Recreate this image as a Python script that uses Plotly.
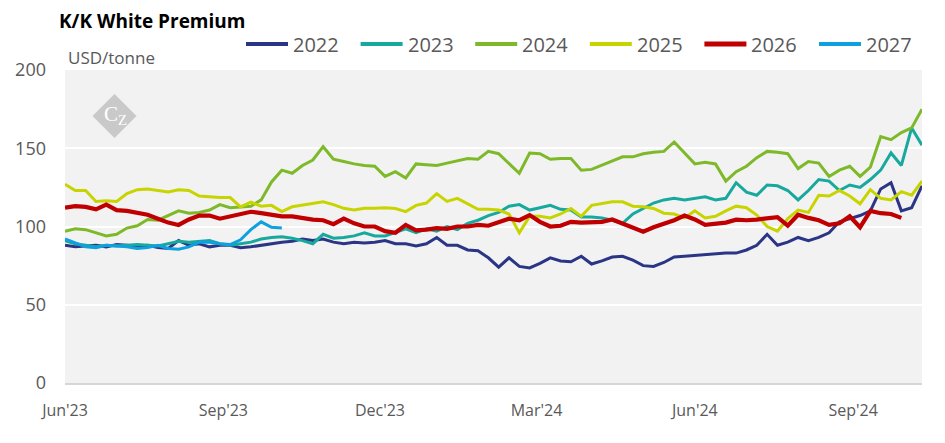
import pandas as pd
import plotly.graph_objects as go

# ---------------- data ----------------
START = "2023-06-01"
STEP = "6D"
X_RANGE = ["2023-06-01", "2024-10-11"]

years = ["2022", "2023", "2024", "2025", "2026", "2027"]

v2022 = [88, 87, 87.5, 88, 87, 88.5, 88, 87, 88, 86.5,
         86, 91, 88, 89, 87, 88, 88, 86.5, 87, 88,
         89, 90, 90.5, 92, 91, 92, 90, 89, 90, 89.5,
         90, 91, 89, 89, 87.5, 89, 93, 88, 88, 85,
         84.5, 80, 74, 80, 74.5, 73.5, 76.5, 80, 78, 77.5,
         81, 76, 78, 80.5, 81, 78.5, 75, 74.5, 77, 80.5,
         81, 81.5, 82, 82.5, 83, 83, 85, 88, 95, 88,
         90, 93, 91, 93, 96, 103, 105, 107, 110, 124,
         128, 110, 112, 126]

v2023 = [91, 89, 88, 87, 88, 87.5, 88, 88.5, 88, 87.5,
         89, 90.5, 90, 90.5, 91, 89, 88, 89, 90, 92,
         93, 93.5, 92.5, 91, 89, 95, 92.5, 93, 94, 96,
         94, 94, 96, 98.5, 96, 98.5, 97, 100, 98, 102,
         104, 107, 109, 113, 114, 110.5, 112, 113.5, 111, 110.5,
         106, 106, 105.5, 104, 102, 108, 111.5, 115, 117, 118,
         117, 118, 119, 117, 118, 128, 122, 120, 126.5, 126,
         123, 117, 123, 130, 129, 123, 126.5, 125, 130, 136,
         147, 139, 163, 152]

v2024 = [97, 98.5, 98, 96, 94, 95, 99, 100.5, 104.5, 104,
         107, 110, 108.5, 109, 110.5, 114, 112, 112.5, 113, 117,
         128.5, 136, 134, 139, 142.5, 151, 143, 141.5, 140, 139,
         138.5, 132, 135, 131, 140, 139.5, 139, 140.5, 142, 143.5,
         143, 148, 146.5, 140, 134, 147, 146.5, 143, 143.5, 143.5,
         136, 136.5, 139, 142, 144.5, 144.5, 146.5, 147.5, 148, 154,
         147, 140, 141, 140, 129, 135, 138.5, 144, 148, 147.5,
         146.5, 137, 141.5, 140.5, 132, 136, 138.5, 132, 138, 157.5,
         155.5, 160, 163, 175]

v2025 = [127, 123, 123, 116, 116.5, 116, 121, 123.5, 124, 123,
         122, 123.5, 123, 119.5, 119, 118.5, 118.5, 112.5, 115.5, 113,
         113.5, 109.5, 112.6, 113.7, 115, 115.8, 114, 111.6, 110.5, 111.6,
         111.6, 112, 111.5, 109.5, 113.5, 115, 121, 116, 118, 114.5,
         111, 111, 110.5, 108, 96, 106.5, 106.5, 105.5, 108, 111.5,
         106.5, 113.5, 114.8, 115.8, 115.8, 113, 112.6, 111.5, 108.5, 108,
         105.5, 110, 105.5, 106.5, 110, 113, 112, 107.3, 100, 97,
         105, 110.5, 109, 120, 119.5, 123, 119.5, 114.5, 123.5, 118,
         117, 122.3, 120, 129]

v2026 = [112, 113, 112.5, 111, 114, 110.5, 110, 108.5, 107.5, 105,
         102.5, 101, 104.5, 107, 107, 105, 106.3, 108, 109.4, 108.5,
         107.5, 106.5, 106.5, 105.2, 104.4, 104, 101.5, 105, 102, 100,
         100, 97, 96, 101, 97.5, 98, 99, 98.5, 100, 100,
         101, 100.5, 103, 105, 104, 107.3, 103, 100, 100.5, 103,
         102.5, 103, 103, 104.5, 102, 99, 96.7, 99.5, 101.5, 104,
         107, 104.5, 101, 102, 102.5, 104.4, 104, 104.4, 105.5, 106,
         100.5, 107.5, 105.5, 104, 101, 102, 106.5, 99.5, 110, 108.5,
         108, 105.5]

v2027 = [92, 89.5, 87, 86.5, 88, 87.5, 87, 86, 86.5, 88,
         86, 85.5, 87, 90, 90, 89, 88.5, 91.5, 98, 103,
         99.5, 99]

series = [v2022, v2023, v2024, v2025, v2026, v2027]

tick_dates = ["2023-06-01", "2023-09-01", "2023-12-01",
              "2024-03-01", "2024-06-01", "2024-09-01"]
tick_labels = ["Jun'23", "Sep'23", "Dec'23", "Mar'24", "Jun'24", "Sep'24"]
y_ticks = [0, 50, 100, 150, 200]

title_text = "K/K White Premium"
unit_text = "USD/tonne"

# ---------------- style ----------------
colors = ["#2B3585", "#17A89E", "#7DB928", "#C8D400", "#C00000", "#0FA0E0"]
widths = [3, 3, 3, 3, 4.2, 3]
legend_widths = [4, 4, 4, 4, 5, 4]
FONT = "Open Sans"
GREY = "#595959"

W, H = 945, 443
ML, MR, MT, MB = 65, 23, 70, 60
PW, PH = W - ML - MR, H - MT - MB


def px_x(p):
    return (p - ML) / PW


def px_y(p):
    return (H - MB - p) / PH


fig = go.Figure()
for name, vals, c, w in zip(years, series, colors, widths):
    x = pd.date_range(START, periods=len(vals), freq=STEP)
    fig.add_trace(go.Scatter(x=x, y=vals, mode="lines", name=name,
                             line=dict(color=c, width=w), showlegend=False,
                             hovertemplate="%{x|%d %b %Y}: %{y}<extra>" + name + "</extra>"))

shapes = []
annotations = []

# custom legend
for i, (name, c, lw) in enumerate(zip(years, colors, legend_widths)):
    x0 = 246 + 114.6 * i
    shapes.append(dict(type="line", xref="paper", yref="paper",
                       x0=px_x(x0), x1=px_x(x0 + 42), y0=px_y(44), y1=px_y(44),
                       line=dict(color=c, width=lw)))
    annotations.append(dict(xref="paper", yref="paper", x=px_x(x0 + 45), y=px_y(44),
                            xanchor="left", yanchor="middle", showarrow=False,
                            text=name, font=dict(family=FONT, size=20, color=GREY)))

# title and unit
annotations.append(dict(xref="paper", yref="paper", x=px_x(57), y=px_y(21),
                        xanchor="left", yanchor="middle", showarrow=False,
                        text="<b>" + title_text + "</b>",
                        font=dict(family=FONT, size=19, color="#000000")))
annotations.append(dict(xref="paper", yref="paper", x=px_x(66), y=px_y(57),
                        xanchor="left", yanchor="middle", showarrow=False,
                        text=unit_text, font=dict(family=FONT, size=17, color=GREY)))

# logo diamond
cx, cy, r = 114.5, 116, 22
path = "M {},{} L {},{} L {},{} L {},{} Z".format(
    px_x(cx), px_y(cy - r), px_x(cx + r), px_y(cy),
    px_x(cx), px_y(cy + r), px_x(cx - r), px_y(cy))
shapes.append(dict(type="path", xref="paper", yref="paper", path=path,
                   fillcolor="#C9C9C9", line=dict(width=0)))
annotations.append(dict(xref="paper", yref="paper", x=px_x(115), y=px_y(115),
                        xanchor="center", yanchor="middle", showarrow=False,
                        text="C<sub>Z</sub>",
                        font=dict(family="Liberation Serif", size=21, color="#FFFFFF")))

fig.update_layout(
    width=W, height=H,
    margin=dict(l=ML, r=MR, t=MT, b=MB),
    paper_bgcolor="#FFFFFF", plot_bgcolor="#F2F2F2",
    font=dict(family=FONT, color=GREY),
    showlegend=False,
    shapes=shapes, annotations=annotations,
    xaxis=dict(range=X_RANGE, tickvals=tick_dates, ticktext=tick_labels,
               showgrid=False, zeroline=False, showline=True,
               linecolor="#D6D6D6", linewidth=2,
               ticks="", ticklabelstandoff=12,
               tickfont=dict(family=FONT, size=16, color=GREY)),
    yaxis=dict(range=[0, 200], tickvals=y_ticks, showgrid=True,
               gridcolor="#FFFFFF", gridwidth=2, zeroline=False, showline=False,
               ticks="", ticklabelstandoff=18,
               tickfont=dict(family=FONT, size=18, color=GREY)),
)

fig.write_html("out.html", config={"displayModeBar": False},
               post_script="document.body.style.margin='0';document.body.style.padding='0';")
